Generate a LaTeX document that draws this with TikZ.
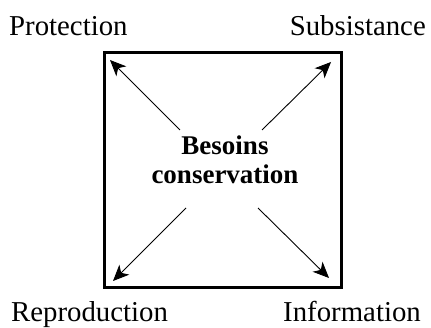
\documentclass[tikz,border=0pt]{standalone}
\usepackage{fontspec}
\setmainfont{Liberation Serif}
\usepackage{tikz}
\usetikzlibrary{arrows.meta, positioning}
\tikzset{
  lbl/.style   = {inner sep=0pt, font=\fontsize{28.8}{32}\selectfont},
  core/.style  = {inner sep=0pt, align=center,
                  font=\fontsize{27}{29}\selectfont\bfseries},
  frame/.style = {draw, line width=2.6pt, inner sep=0pt,
                  minimum width=237pt, minimum height=235pt},
  arr/.style   = {-{Stealth[length=16pt, width=14pt, inset=4.5pt]}, line width=0.9pt},
}
\begin{document}
\begin{tikzpicture}[x=1pt, y=-1pt]
  \useasboundingbox (0,0) rectangle (431,328);

  % ── frame and centre text ──────────────────────────────────────────────────
  \node[frame] (box)  at (223,170)   {};
  \node[core]  (need) at (225,159.5) {Besoins\\conservation};

  % ── corner labels ──────────────────────────────────────────────────────────
  \node[lbl, anchor=base west] (prot) at (9,36)    {Protection};
  \node[lbl, anchor=base east] (subs) at (426,36)  {Subsistance};
  \node[lbl, anchor=base west] (repr) at (11,322)  {Reproduction};
  \node[lbl, anchor=base east] (info) at (421,322) {Information};

  % ── arrow ends ─────────────────────────────────────────────────────────────
  \coordinate (tl0) at (180,130); \coordinate (tl1) at (110,60);
  \coordinate (tr0) at (262,130); \coordinate (tr1) at (331,62);
  \coordinate (bl0) at (186,208); \coordinate (bl1) at (113,281);
  \coordinate (br0) at (258,208); \coordinate (br1) at (329,278);

  % ── arrows ─────────────────────────────────────────────────────────────────
  \draw[arr] (tl0) -- (tl1);
  \draw[arr] (tr0) -- (tr1);
  \draw[arr] (bl0) -- (bl1);
  \draw[arr] (br0) -- (br1);

\end{tikzpicture}
\end{document}
